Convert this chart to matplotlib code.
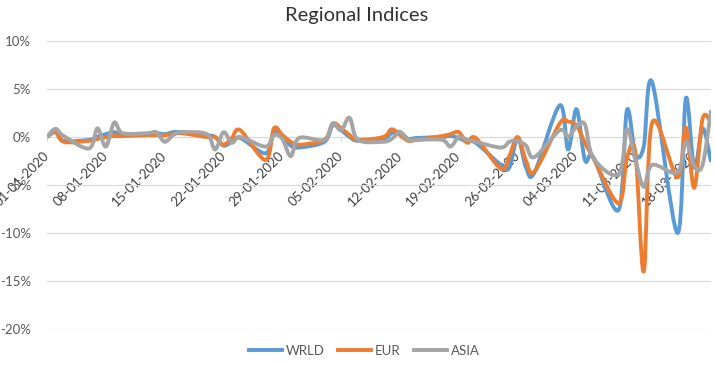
import numpy as np
import pandas as pd
import matplotlib
matplotlib.use("Agg")
import matplotlib.pyplot as plt
import matplotlib.dates as mdates
from matplotlib.path import Path
from matplotlib.patches import PathPatch
from matplotlib.lines import Line2D
from matplotlib.ticker import FuncFormatter, MultipleLocator, FixedLocator

plt.rcParams['font.family'] = ['Lato', 'DejaVu Sans']

# trading days, 01-01-2020 .. 20-03-2020
dates = pd.bdate_range('2020-01-01', '2020-03-20')

# daily returns in %
wrld = [0.0, 0.5, -0.4,
        -0.3, 0.0, 0.3, 0.5, 0.3,
        0.3, 0.4, 0.3, 0.5, 0.5,
        0.2, 0.0, -0.9, -0.5, -0.1,
        -1.7, 0.5, 0.0, -0.9, -1.1,
        -0.5, 1.2, 0.7, 0.0, -0.4,
        -0.2, 0.4, 0.5, -0.2, -0.1,
        0.0, 0.1, -0.1, -0.5, -0.6,
        -2.9, -3.2, -0.1, -3.2, -3.7,
        3.3, -1.3, 2.9, -2.4, -2.1,
        -7.6, 2.8, -1.8, -1.0, 5.7,
        -10.0, 4.0, -3.2, 0.9, -2.6]
eur = [0.0, 0.6, -0.5,
       -0.4, -0.2, 0.0, 0.1, 0.1,
       0.2, 0.2, 0.2, 0.3, 0.4,
       0.0, 0.0, -0.8, -0.1, 0.7,
       -2.4, 0.9, 0.2, -0.5, -0.8,
       -0.3, 1.4, 0.9, 0.2, -0.3,
       0.0, 0.8, 0.2, -0.4, -0.3,
       0.1, 0.3, 0.5, -0.6, -0.1,
       -3.3, -2.0, 0.0, -2.5, -3.6,
       1.4, 1.6, 1.2, -0.6, -2.2,
       -6.9, -2.2, -1.6, -14.0, 1.5,
       -4.2, 1.0, -5.3, 1.9, 1.5]
asia = [0.0, 0.85, 0.1,
        -1.2, 0.9, -1.0, 1.5, 0.4,
        0.4, 0.5, -0.5, 0.2, 0.5,
        0.3, -1.3, 0.5, -0.6, 0.0,
        -1.0, 0.2, -0.2, -2.0, -0.1,
        -0.3, 1.4, 0.7, 2.0, -0.3,
        -0.5, -0.2, 0.5, -0.3, -0.3,
        -0.3, -1.0, 0.0, -0.3, -0.5,
        -1.1, -0.5, -0.4, -0.9, -2.1,
        0.7, 0.0, 1.1, 1.3, -2.2,
        -3.9, 0.8, -2.4, -5.2, -2.9,
        -3.7, -0.5, -3.0, -2.9, 2.8]

names = ['WRLD', 'EUR', 'ASIA']
colors = ['#5B9BD5', '#ED7D31', '#A5A5A5']


def smooth_path(x, y):
    # excel-like smoothed line: bezier segments through every point
    x = np.asarray(x, float)
    y = np.asarray(y, float)
    xp = np.concatenate([[x[0]], x, [x[-1]]])
    yp = np.concatenate([[y[0]], y, [y[-1]]])
    verts = [(x[0], y[0])]
    codes = [Path.MOVETO]
    for i in range(len(x) - 1):
        c1 = (x[i] + (xp[i + 2] - xp[i]) / 6, y[i] + (yp[i + 2] - yp[i]) / 6)
        c2 = (x[i + 1] - (xp[i + 3] - xp[i + 1]) / 6, y[i + 1] - (yp[i + 3] - yp[i + 1]) / 6)
        verts += [c1, c2, (x[i + 1], y[i + 1])]
        codes += [Path.CURVE4] * 3
    return Path(verts, codes)


fig = plt.figure(figsize=(7.14, 3.65), dpi=100)
ax = fig.add_axes([0.0658, 0.0986, 0.93, 0.7891])

xnum = mdates.date2num(dates)
for vals, c in zip([wrld, eur, asia], colors):
    ax.add_patch(PathPatch(smooth_path(xnum, vals), fill=False, edgecolor=c,
                           lw=2.8, joinstyle='round', capstyle='butt', zorder=3))

ax.set_xlim(xnum[0], xnum[-1])
ax.set_ylim(-20, 10)
ax.yaxis.set_major_locator(MultipleLocator(5))
ax.yaxis.set_major_formatter(FuncFormatter(lambda v, p: f'{v:.0f}%'))
ax.yaxis.grid(True, color='#D9D9D9', lw=0.8)
ax.set_axisbelow(True)

ticks = pd.date_range('2020-01-01', '2020-03-20', freq='7D')
ax.xaxis.set_major_locator(FixedLocator(mdates.date2num(ticks)))
ax.xaxis.set_major_formatter(mdates.DateFormatter('%d-%m-%Y'))

for s in ['top', 'right', 'left']:
    ax.spines[s].set_visible(False)
ax.spines['bottom'].set_position(('data', 0))
ax.spines['bottom'].set_color('#D9D9D9')
ax.spines['bottom'].set_linewidth(0.8)

ax.tick_params(axis='y', length=0, pad=11.5, labelsize=9.5, labelcolor='#595959')
ax.tick_params(axis='x', length=3, color='#D9D9D9', pad=9, labelsize=9.5, labelcolor='#404040')
for lab in ax.get_xticklabels():
    lab.set_rotation(45)
    lab.set_ha('right')
    lab.set_va('center')
    lab.set_rotation_mode('anchor')

fig.text(0.5, 0.958, 'Regional Indices', ha='center', va='center', fontsize=14.5, color='#333333')

handles = [Line2D([], [], color=c, lw=2.8) for c in colors]
fig.legend(handles, names, loc='lower center', bbox_to_anchor=(0.51, -0.01), ncol=3,
           frameon=False, fontsize=9.5, labelcolor='#595959', handlelength=2.5,
           handletextpad=0.3, columnspacing=1.0)

fig.savefig('out.png', dpi=100)
